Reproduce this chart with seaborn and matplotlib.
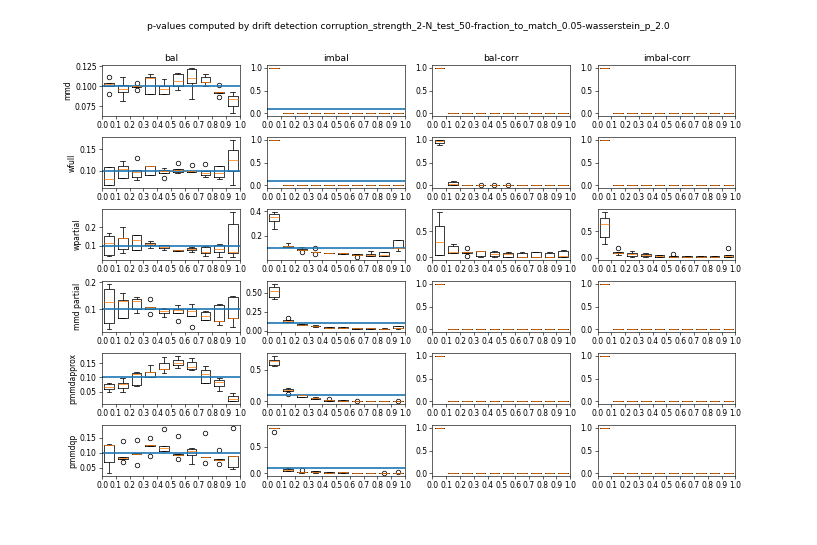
import numpy as np
import pandas as pd
import seaborn as sns
import matplotlib.pyplot as plt

# ------- data -------
# 5 samples per box -> min, q1, median, q3, max (outliers fall out of 1.5*IQR rule)

positions = [0.05, 0.15, 0.25, 0.35, 0.45, 0.55, 0.65, 0.75, 0.85, 0.95]
xticks = [0.0, 0.1, 0.2, 0.3, 0.4, 0.5, 0.6, 0.7, 0.8, 0.9, 1.0]
xtick_labels = ['0.0', '0.1', '0.2', '0.3', '0.4', '0.5', '0.6', '0.7', '0.8', '0.9', '1.0']

methods = ['mmd', 'wfull', 'wpartial', 'mmd partial', 'pmmdapprox', 'pmmdqp']
settings = ['bal', 'imbal', 'bal-corr', 'imbal-corr']
title = ('p-values computed by drift detection corruption_strength_2-N_test_50-'
         'fraction_to_match_0.05-wasserstein_p_2.0')

# panels where drift is always detected: p=1 at first box, 0 elsewhere
saturated = [
    [1.0, 1.0, 1.0, 1.0, 1.0],
    [0.0, 0.0, 0.0, 0.0, 0.0],
    [0.0, 0.0, 0.0, 0.0, 0.0],
    [0.0, 0.0, 0.0, 0.0, 0.0],
    [0.0, 0.0, 0.0, 0.0, 0.0],
    [0.0, 0.0, 0.0, 0.0, 0.0],
    [0.0, 0.0, 0.0, 0.0, 0.0],
    [0.0, 0.0, 0.0, 0.0, 0.0],
    [0.0, 0.0, 0.0, 0.0, 0.0],
    [0.0, 0.0, 0.0, 0.0, 0.0],
]

mmd_bal = [
    [0.091, 0.100, 0.1025, 0.104, 0.112],
    [0.082, 0.093, 0.097, 0.102, 0.112],
    [0.0948, 0.0995, 0.100, 0.1005, 0.1045],
    [0.090, 0.0905, 0.1107, 0.1115, 0.1156],
    [0.0905, 0.091, 0.097, 0.1008, 0.1094],
    [0.096, 0.1008, 0.107, 0.1156, 0.117],
    [0.0836, 0.104, 0.111, 0.1213, 0.1234],
    [0.101, 0.1053, 0.106, 0.1115, 0.1152],
    [0.0865, 0.0918, 0.0925, 0.0932, 0.102],
    [0.066, 0.0754, 0.0836, 0.0877, 0.093],
]

wfull_bal = [
    [0.066, 0.067, 0.0808, 0.1077, 0.109],
    [0.083, 0.083, 0.105, 0.1123, 0.123],
    [0.0785, 0.0846, 0.096, 0.102, 0.130],
    [0.090, 0.090, 0.110, 0.111, 0.112],
    [0.084, 0.0955, 0.0985, 0.1015, 0.107],
    [0.0946, 0.0977, 0.1008, 0.1038, 0.119],
    [0.0975, 0.098, 0.0985, 0.100, 0.114],
    [0.0846, 0.0908, 0.0938, 0.100, 0.116],
    [0.081, 0.0846, 0.0938, 0.1115, 0.1115],
    [0.0654, 0.099, 0.1246, 0.1485, 0.173],
]

wfull_balcorr = [
    [0.887, 0.936, 0.98, 1.0, 1.0],
    [0.005, 0.014, 0.03, 0.085, 0.106],
    [0.0, 0.003, 0.005, 0.01, 0.02],
    [0.0, 0.0, 0.001, 0.002, 0.015],
    [0.0, 0.0, 0.001, 0.002, 0.015],
    [0.0, 0.0, 0.001, 0.002, 0.015],
    [0.0, 0.0, 0.0, 0.0, 0.0],
    [0.0, 0.0, 0.0, 0.0, 0.0],
    [0.0, 0.0, 0.0, 0.0, 0.0],
    [0.0, 0.0, 0.0, 0.0, 0.0],
]

wpartial_bal = [
    [0.047, 0.051, 0.1175, 0.1526, 0.1667],
    [0.065, 0.086, 0.140, 0.1439, 0.200],
    [0.079, 0.079, 0.130, 0.158, 0.160],
    [0.0877, 0.1035, 0.112, 0.1175, 0.126],
    [0.079, 0.0895, 0.0965, 0.1035, 0.1035],
    [0.073, 0.074, 0.077, 0.079, 0.080],
    [0.068, 0.079, 0.086, 0.091, 0.0965],
    [0.044, 0.065, 0.068, 0.0965, 0.100],
    [0.0386, 0.068, 0.086, 0.105, 0.109],
    [0.040, 0.065, 0.070, 0.2175, 0.283],
]

wpartial_imbal = [
    [0.253, 0.316, 0.348, 0.375, 0.395],
    [0.104, 0.105, 0.113, 0.118, 0.136],
    [0.063, 0.084, 0.0866, 0.0945, 0.105],
    [0.052, 0.063, 0.0655, 0.069, 0.100],
    [0.055, 0.056, 0.057, 0.058, 0.059],
    [0.051, 0.0523, 0.057, 0.060, 0.061],
    [0.022, 0.040, 0.044, 0.050, 0.053],
    [0.034, 0.034, 0.042, 0.052, 0.071],
    [0.034, 0.034, 0.039, 0.063, 0.068],
    [0.073, 0.097, 0.098, 0.166, 0.167],
]

wpartial_balcorr = [
    [0.044, 0.044, 0.29, 0.6125, 0.88],
    [0.094, 0.094, 0.106, 0.219, 0.25],
    [0.025, 0.094, 0.100, 0.1125, 0.175],
    [0.0, 0.019, 0.123, 0.125, 0.125],
    [0.0, 0.019, 0.075, 0.1125, 0.125],
    [0.005, 0.0125, 0.0625, 0.094, 0.100],
    [0.0, 0.0125, 0.0125, 0.094, 0.100],
    [0.0, 0.0125, 0.015, 0.106, 0.1125],
    [0.0, 0.0, 0.0, 0.094, 0.100],
    [0.0, 0.002, 0.02, 0.125, 0.14],
]

wpartial_imbalcorr = [
    [0.25, 0.394, 0.625, 0.75, 0.8625],
    [0.044, 0.081, 0.094, 0.1125, 0.1875],
    [0.019, 0.0375, 0.0625, 0.081, 0.125],
    [0.02, 0.025, 0.044, 0.0625, 0.094],
    [0.01, 0.0125, 0.03, 0.044, 0.05],
    [0.01, 0.0125, 0.02, 0.03, 0.075],
    [0.005, 0.0125, 0.02, 0.03, 0.035],
    [0.005, 0.0125, 0.02, 0.03, 0.035],
    [0.005, 0.0125, 0.02, 0.03, 0.035],
    [0.01, 0.0125, 0.0375, 0.056, 0.175],
]

mmdpartial_bal = [
    [0.026, 0.049, 0.126, 0.177, 0.195],
    [0.069, 0.069, 0.133, 0.134, 0.160],
    [0.0876, 0.103, 0.131, 0.138, 0.146],
    [0.082, 0.101, 0.108, 0.1106, 0.138],
    [0.072, 0.088, 0.0954, 0.103, 0.106],
    [0.057, 0.0876, 0.0995, 0.100, 0.116],
    [0.036, 0.076, 0.096, 0.100, 0.119],
    [0.060, 0.0617, 0.077, 0.0908, 0.0954],
    [0.041, 0.057, 0.058, 0.118, 0.119],
    [0.035, 0.069, 0.070, 0.145, 0.150],
]

mmdpartial_imbal = [
    [0.42, 0.45, 0.52, 0.58, 0.62],
    [0.11, 0.12, 0.13, 0.135, 0.165],
    [0.07, 0.075, 0.08, 0.085, 0.09],
    [0.05, 0.055, 0.06, 0.065, 0.08],
    [0.035, 0.038, 0.04, 0.043, 0.045],
    [0.03, 0.035, 0.04, 0.045, 0.048],
    [0.02, 0.025, 0.03, 0.032, 0.035],
    [0.02, 0.025, 0.03, 0.033, 0.036],
    [0.015, 0.018, 0.02, 0.025, 0.03],
    [0.02, 0.03, 0.04, 0.055, 0.06],
]

pmmdapprox_bal = [
    [0.05, 0.0589, 0.0648, 0.0753, 0.079],
    [0.048, 0.0612, 0.0765, 0.0789, 0.0965],
    [0.0695, 0.073, 0.112, 0.1164, 0.118],
    [0.100, 0.100, 0.119, 0.120, 0.1435],
    [0.1164, 0.128, 0.1285, 0.149, 0.173],
    [0.134, 0.1435, 0.149, 0.161, 0.176],
    [0.126, 0.128, 0.1375, 0.155, 0.167],
    [0.079, 0.081, 0.112, 0.126, 0.141],
    [0.052, 0.0706, 0.0847, 0.0906, 0.0965],
    [0.015, 0.0167, 0.0236, 0.034, 0.046],
]

pmmdapprox_imbal = [
    [0.562, 0.578, 0.63, 0.655, 0.72],
    [0.12, 0.165, 0.18, 0.19, 0.205],
    [0.075, 0.077, 0.1, 0.102, 0.105],
    [0.035, 0.036, 0.05, 0.062, 0.065],
    [0.005, 0.015, 0.02, 0.025, 0.045],
    [0.005, 0.008, 0.012, 0.02, 0.022],
    [0.0, 0.0, 0.0, 0.002, 0.012],
    [0.0, 0.0, 0.0, 0.0, 0.0],
    [0.0, 0.0, 0.0, 0.0, 0.0],
    [0.0, 0.0, 0.0, 0.001, 0.008],
]

pmmdqp_bal = [
    [0.0315, 0.0707, 0.125, 0.127, 0.130],
    [0.069, 0.0804, 0.083, 0.0859, 0.140],
    [0.060, 0.097, 0.098, 0.099, 0.1435],
    [0.091, 0.1245, 0.125, 0.1255, 0.149],
    [0.105, 0.1076, 0.116, 0.124, 0.179],
    [0.0804, 0.092, 0.0945, 0.0967, 0.1565],
    [0.062, 0.092, 0.105, 0.113, 0.116],
    [0.065, 0.0855, 0.086, 0.0865, 0.165],
    [0.062, 0.0775, 0.078, 0.0785, 0.111],
    [0.0457, 0.054, 0.089, 0.0895, 0.184],
]

pmmdqp_imbal = [
    [0.773, 0.85, 0.855, 0.86, 0.86],
    [0.04, 0.042, 0.075, 0.092, 0.095],
    [0.01, 0.02, 0.025, 0.03, 0.07],
    [0.015, 0.02, 0.03, 0.04, 0.042],
    [0.005, 0.01, 0.015, 0.02, 0.022],
    [0.005, 0.01, 0.02, 0.03, 0.032],
    [0.003, 0.005, 0.008, 0.012, 0.015],
    [0.0, 0.002, 0.004, 0.006, 0.008],
    [0.0, 0.0, 0.0, 0.001, 0.012],
    [0.0, 0.0, 0.001, 0.002, 0.022],
]

grid = [
    [mmd_bal, saturated, saturated, saturated],
    [wfull_bal, saturated, wfull_balcorr, saturated],
    [wpartial_bal, wpartial_imbal, wpartial_balcorr, wpartial_imbalcorr],
    [mmdpartial_bal, mmdpartial_imbal, saturated, saturated],
    [pmmdapprox_bal, pmmdapprox_imbal, saturated, saturated],
    [pmmdqp_bal, pmmdqp_imbal, saturated, saturated],
]

# ------- plotting -------

DPI = 54.5
fig, axes = plt.subplots(6, 4, figsize=(817 / DPI, 545 / DPI))
fig.subplots_adjust(left=0.125, right=0.9, top=0.88, bottom=0.127, hspace=0.43, wspace=0.2)

for i, method in enumerate(methods):
    for j, setting in enumerate(settings):
        ax = axes[i, j]
        rows = [(pos, v) for pos, vals in zip(positions, grid[i][j]) for v in vals]
        df = pd.DataFrame(rows, columns=['fraction', 'p'])
        sns.boxplot(data=df, x='fraction', y='p', native_scale=True, width=0.7,
                    fill=False, color='black', linewidth=1,
                    medianprops=dict(color='C1', linewidth=1),
                    flierprops=dict(marker='o', markersize=6, markerfacecolor='none',
                                    markeredgecolor='black'),
                    ax=ax)
        # reference level only on the first two columns
        if j < 2:
            ax.axhline(0.1, color='C0', lw=2.2)
        ax.set_xlim(0, 1)
        ax.set_xticks(xticks)
        ax.set_xticklabels(xtick_labels)
        ax.set_xlabel('')
        ax.set_ylabel(method if j == 0 else '')
        if i == 0:
            ax.set_title(setting)

fig.suptitle(title, y=0.96)
fig.savefig('out.png', dpi=DPI)
